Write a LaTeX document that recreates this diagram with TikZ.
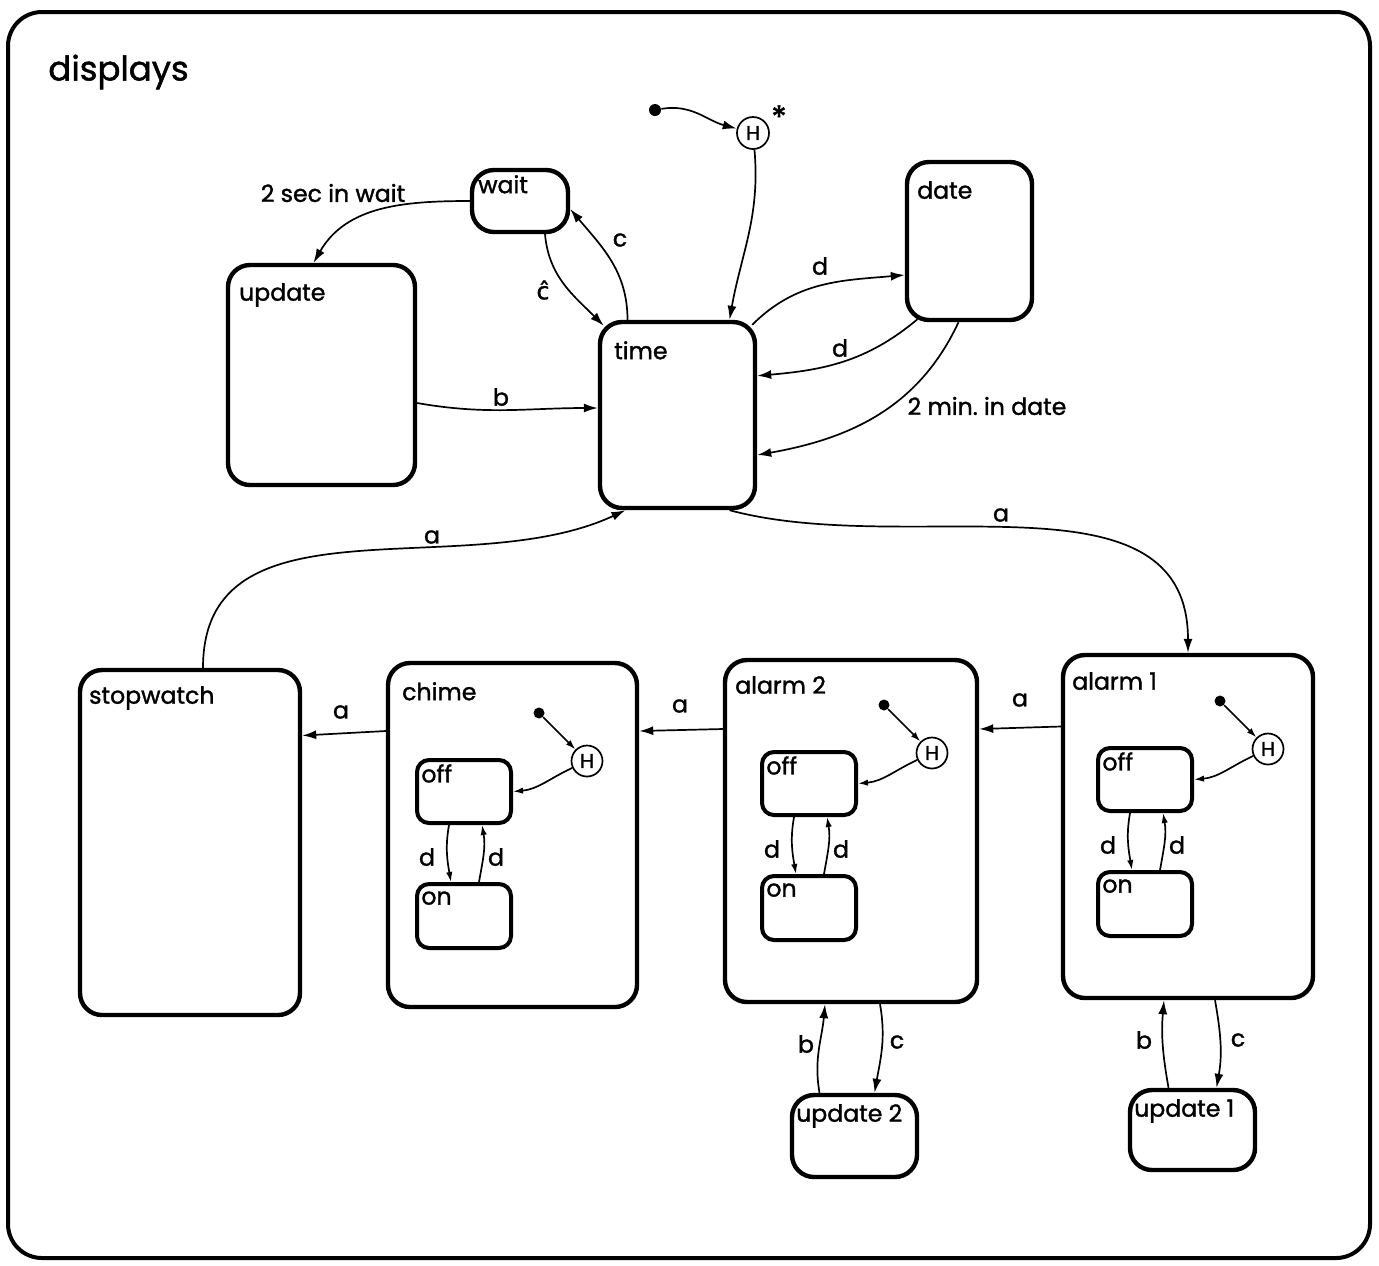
\documentclass[tikz,border=0pt]{standalone}
\usepackage{fontspec}
\setmainfont{Poppins}[FakeBold=1.4]
\newfontfamily\djv{DejaVu Sans}[FakeBold=1.2]
\usetikzlibrary{arrows.meta,calc}
\newcommand\stbox[9]{% style, name, x1, y1, x2, y2, text, dx, dy (pixels)
  \node[#1, minimum width={(#5-#3)*0.5pt}, minimum height={(#6-#4)*0.5pt}] (#2) at ({(#3+#5)/2},{-(#4+#6)/2}) {};
  \node[lab, anchor=north west] (#2-l) at ($(#2.north west)+(#8,-#9)$) {#7};
}
\newcommand\subchart[3]{% prefix, ox, oy : top-left of the off box (pixels)
  \node[sbox, minimum width=47pt, minimum height=31.5pt] (#1off) at ({#2+47},{-(#3+31.5)}) {};
  \node[lab, anchor=north west] (#1offl) at ($(#1off.north west)+(6,-6)$) {off};
  \node[sbox, minimum width=47pt, minimum height=32pt] (#1on) at ({#2+47},{-(#3+156)}) {};
  \node[lab, anchor=north west] (#1onl) at ($(#1on.north west)+(6,-9)$) {on};
  \node[dotst, minimum size=5.5pt] (#1i) at ({#2+122},{-(#3-47)}) {};
  \node[hist] (#1H) at ({#2+170},{-(#3+1)}) {H};
  \draw[str] (#1i) -- (#1H);
  \draw[str] (#1H) to[out=-155,in=5] (#1off.east);
  \draw[str] ($(#1off.south)+(-15,0)$) to[out=-100,in=100] ($(#1on.north)+(-13,0)$);
  \draw[str] ($(#1on.north)+(15,0)$) to[out=80,in=-80] ($(#1off.south)+(18,0)$);
  \node[lab] (#1dl) at ({#2+10},{-(#3+97)}) {d};
  \node[lab] (#1dr) at ({#2+79},{-(#3+97)}) {d};
}
\begin{document}
\begin{tikzpicture}[x=0.5pt,y=0.5pt,
  box/.style={draw, line width=2.2pt, rounded corners=11pt, inner sep=0pt},
  sbox/.style={draw, line width=2pt, rounded corners=6pt, inner sep=0pt},
  lab/.style={font=\fontsize{11.8}{12}\selectfont, inner sep=0pt},
  tr/.style={line width=0.85pt, -{Latex[length=7pt,width=4.5pt]}},
  str/.style={line width=0.85pt, -{Latex[length=5pt,width=3.2pt]}},
  hist/.style={draw, circle, line width=0.85pt, minimum size=15.5pt, inner sep=0pt, font=\fontsize{10}{10}\selectfont},
  dotst/.style={fill, circle, minimum size=6pt, inner sep=0pt},
]
\useasboundingbox (0,0) rectangle (1379,-1265);
% outer frame
\node[draw, line width=2pt, rounded corners=17pt, minimum width=681pt, minimum height=623pt, inner sep=0pt] (frame) at (689,-635) {};
\node[lab, font=\fontsize{17}{17}\selectfont, anchor=west] (disp) at (48,-72) {displays};

% states
\stbox{box}{wait}{472}{170}{568}{232}{wait}{8}{7}
\stbox{box}{update}{228}{265}{415}{485}{update}{13}{20}
\stbox{box}{time}{600}{322}{755}{508}{time}{16}{21}
\stbox{box}{date}{907}{162}{1032}{320}{date}{12}{21}
\stbox{box}{stopwatch}{80}{670}{300}{1015}{stopwatch}{11}{18}
\stbox{box}{chime}{388}{663}{637}{1007}{chime}{16}{21}
\stbox{box}{alarm2}{725}{660}{977}{1002}{alarm 2}{12}{18}
\stbox{box}{alarm1}{1063}{655}{1313}{998}{alarm 1}{11}{19}
\stbox{box}{update2}{792}{1095}{917}{1177}{update 2}{6}{11}
\stbox{box}{update1}{1130}{1090}{1255}{1170}{update 1}{6}{11}

% history entry at top
\node[dotst] (i0) at (655,-110) {};
\node[hist, minimum size=16pt] (Hs) at (753,-133) {H};
\node[lab, font=\fontsize{16}{16}\selectfont] (star) at (779,-117) {*};

% transitions top part
\draw[tr] (i0) to[out=10,in=165] (Hs);
\draw[tr] (Hs) to[out=-85,in=80] ($(time.north)+(52,0)$);
\draw[tr] (wait.west) to[out=180,in=60] ($(update.north)+(-8,0)$);
\draw[tr] ($(wait.south)+(25,0)$) to[out=-85,in=135] ($(time.north west)+(6,-6)$);
\draw[tr] ($(time.north)+(-50,0)$) to[out=90,in=-50] ($(wait.east)+(0,-8)$);
\draw[tr] ($(time.north east)+(-5,-5)$) to[out=45,in=185] ($(date.west)+(0,-34)$);
\draw[tr] ($(date.south)+(-52,3)$) to[out=-140,in=5] ($(time.north east)+(0,-56)$);
\draw[tr] ($(date.south)+(-11,0)$) to[out=-115,in=10] ($(time.east)+(0,-40)$);
\draw[tr] ($(update.east)+(0,-28)$) to[out=-10,in=180] ($(time.west)+(0,7)$);
\draw[tr] ($(time.south)+(52,0)$) to[out=-15,in=90] (alarm1.north);
\draw[tr] ($(stopwatch.north)+(13,0)$) to[out=90,in=-155] ($(time.south)+(-52,0)$);

% horizontal a chain
\draw[tr] ($(alarm1.west)+(0,100)$) -- ($(alarm2.east)+(0,102)$);
\draw[tr] ($(alarm2.west)+(0,102)$) -- ($(chime.east)+(0,104)$);
\draw[tr] ($(chime.west)+(0,104)$) -- ($(stopwatch.east)+(0,107)$);

% alarm / update loops
\draw[tr] ($(alarm2.south)+(29,0)$) to[out=-80,in=80] ($(update2.north)+(20,0)$);
\draw[tr] ($(update2.north)+(-35,0)$) to[out=100,in=-95] ($(alarm2.south)+(-26,0)$);
\draw[tr] ($(alarm1.south)+(27,0)$) to[out=-80,in=80] ($(update1.north)+(24,0)$);
\draw[tr] ($(update1.north)+(-24,0)$) to[out=100,in=-95] ($(alarm1.south)+(-24,0)$);

% sub charts
\subchart{ch}{417}{760}
\subchart{aa}{762}{752}
\subchart{ab}{1098}{748}

% transition labels
\node[lab] (l2s) at (333,-193) {2 sec in wait};
\node[lab, font=\fontsize{11.8}{12}\djv] (lch) at (543,-290) {ĉ};
\node[lab] (lc) at (620,-240) {c};
\node[lab] (ld1) at (820,-266) {d};
\node[lab] (ld2) at (840,-348) {d};
\node[lab] (l2m) at (987,-406) {2 min.\ in date};
\node[lab] (lb) at (501,-397) {b};
\node[lab] (la1) at (1001,-515) {a};
\node[lab] (la2) at (432,-537) {a};
\node[lab] (la3) at (1020,-700) {a};
\node[lab] (la4) at (680,-706) {a};
\node[lab] (la5) at (341,-712) {a};
\node[lab] (lb2) at (806,-1044) {b};
\node[lab] (lc2) at (897,-1042) {c};
\node[lab] (lb1) at (1144,-1040) {b};
\node[lab] (lc1) at (1238,-1040) {c};
\end{tikzpicture}
\end{document}
